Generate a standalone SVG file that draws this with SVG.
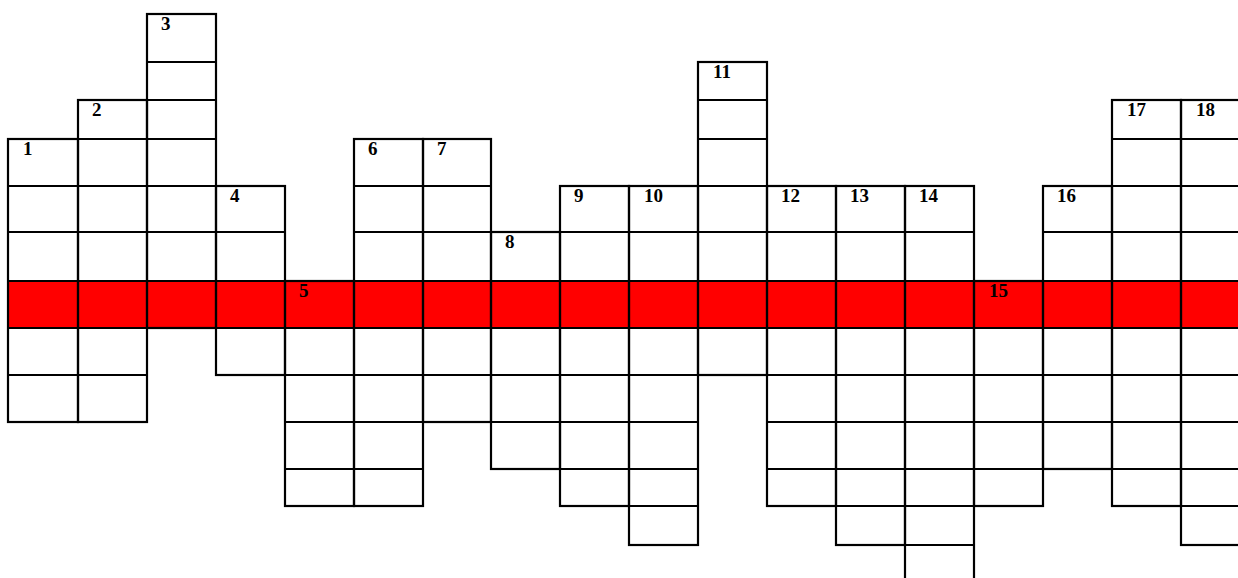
<svg xmlns="http://www.w3.org/2000/svg" width="1238" height="578" viewBox="0 0 1238 578">
<style>
.cell{fill:none;stroke:#000;stroke-width:2.2}
.num{font-family:"Liberation Serif","Times New Roman",serif;font-weight:bold;font-size:19px;fill:#000}
</style>
<rect width="1238" height="578" fill="#fff"/>
<rect id="highlight-row" x="8" y="281" width="1242" height="47" fill="#ff0000"/>
<g id="col-1"><rect class="cell" x="8" y="139" width="70" height="283"/><path class="cell" d="M8 186H78M8 232H78M8 281H78M8 328H78M8 375H78"/><text class="num" x="23" y="155">1</text></g>
<g id="col-2"><rect class="cell" x="78" y="100" width="69" height="322"/><path class="cell" d="M78 139H147M78 186H147M78 232H147M78 281H147M78 328H147M78 375H147"/><text class="num" x="92" y="116">2</text></g>
<g id="col-3"><rect class="cell" x="147" y="14" width="69" height="314"/><path class="cell" d="M147 62H216M147 100H216M147 139H216M147 186H216M147 232H216M147 281H216"/><text class="num" x="161" y="30">3</text></g>
<g id="col-4"><rect class="cell" x="216" y="186" width="69" height="189"/><path class="cell" d="M216 232H285M216 281H285M216 328H285"/><text class="num" x="230" y="202">4</text></g>
<g id="col-5"><rect class="cell" x="285" y="281" width="69" height="225"/><path class="cell" d="M285 328H354M285 375H354M285 422H354M285 469H354"/><text class="num" x="299" y="297">5</text></g>
<g id="col-6"><rect class="cell" x="354" y="139" width="69" height="367"/><path class="cell" d="M354 186H423M354 232H423M354 281H423M354 328H423M354 375H423M354 422H423M354 469H423"/><text class="num" x="368" y="155">6</text></g>
<g id="col-7"><rect class="cell" x="423" y="139" width="68" height="283"/><path class="cell" d="M423 186H491M423 232H491M423 281H491M423 328H491M423 375H491"/><text class="num" x="437" y="155">7</text></g>
<g id="col-8"><rect class="cell" x="491" y="232" width="69" height="237"/><path class="cell" d="M491 281H560M491 328H560M491 375H560M491 422H560"/><text class="num" x="505" y="248">8</text></g>
<g id="col-9"><rect class="cell" x="560" y="186" width="69" height="320"/><path class="cell" d="M560 232H629M560 281H629M560 328H629M560 375H629M560 422H629M560 469H629"/><text class="num" x="574" y="202">9</text></g>
<g id="col-10"><rect class="cell" x="629" y="186" width="69" height="359"/><path class="cell" d="M629 232H698M629 281H698M629 328H698M629 375H698M629 422H698M629 469H698M629 506H698"/><text class="num" x="644" y="202">10</text></g>
<g id="col-11"><rect class="cell" x="698" y="62" width="69" height="313"/><path class="cell" d="M698 100H767M698 139H767M698 186H767M698 232H767M698 281H767M698 328H767"/><text class="num" x="713" y="78">11</text></g>
<g id="col-12"><rect class="cell" x="767" y="186" width="69" height="320"/><path class="cell" d="M767 232H836M767 281H836M767 328H836M767 375H836M767 422H836M767 469H836"/><text class="num" x="781" y="202">12</text></g>
<g id="col-13"><rect class="cell" x="836" y="186" width="69" height="359"/><path class="cell" d="M836 232H905M836 281H905M836 328H905M836 375H905M836 422H905M836 469H905M836 506H905"/><text class="num" x="850" y="202">13</text></g>
<g id="col-14"><rect class="cell" x="905" y="186" width="69" height="406"/><path class="cell" d="M905 232H974M905 281H974M905 328H974M905 375H974M905 422H974M905 469H974M905 506H974M905 545H974"/><text class="num" x="919" y="202">14</text></g>
<g id="col-15"><rect class="cell" x="974" y="281" width="69" height="225"/><path class="cell" d="M974 328H1043M974 375H1043M974 422H1043M974 469H1043"/><text class="num" x="989" y="297">15</text></g>
<g id="col-16"><rect class="cell" x="1043" y="186" width="69" height="283"/><path class="cell" d="M1043 232H1112M1043 281H1112M1043 328H1112M1043 375H1112M1043 422H1112"/><text class="num" x="1057" y="202">16</text></g>
<g id="col-17"><rect class="cell" x="1112" y="100" width="69" height="406"/><path class="cell" d="M1112 139H1181M1112 186H1181M1112 232H1181M1112 281H1181M1112 328H1181M1112 375H1181M1112 422H1181M1112 469H1181"/><text class="num" x="1127" y="116">17</text></g>
<g id="col-18"><rect class="cell" x="1181" y="100" width="69" height="445"/><path class="cell" d="M1181 139H1250M1181 186H1250M1181 232H1250M1181 281H1250M1181 328H1250M1181 375H1250M1181 422H1250M1181 469H1250M1181 506H1250"/><text class="num" x="1196" y="116">18</text></g>
</svg>
